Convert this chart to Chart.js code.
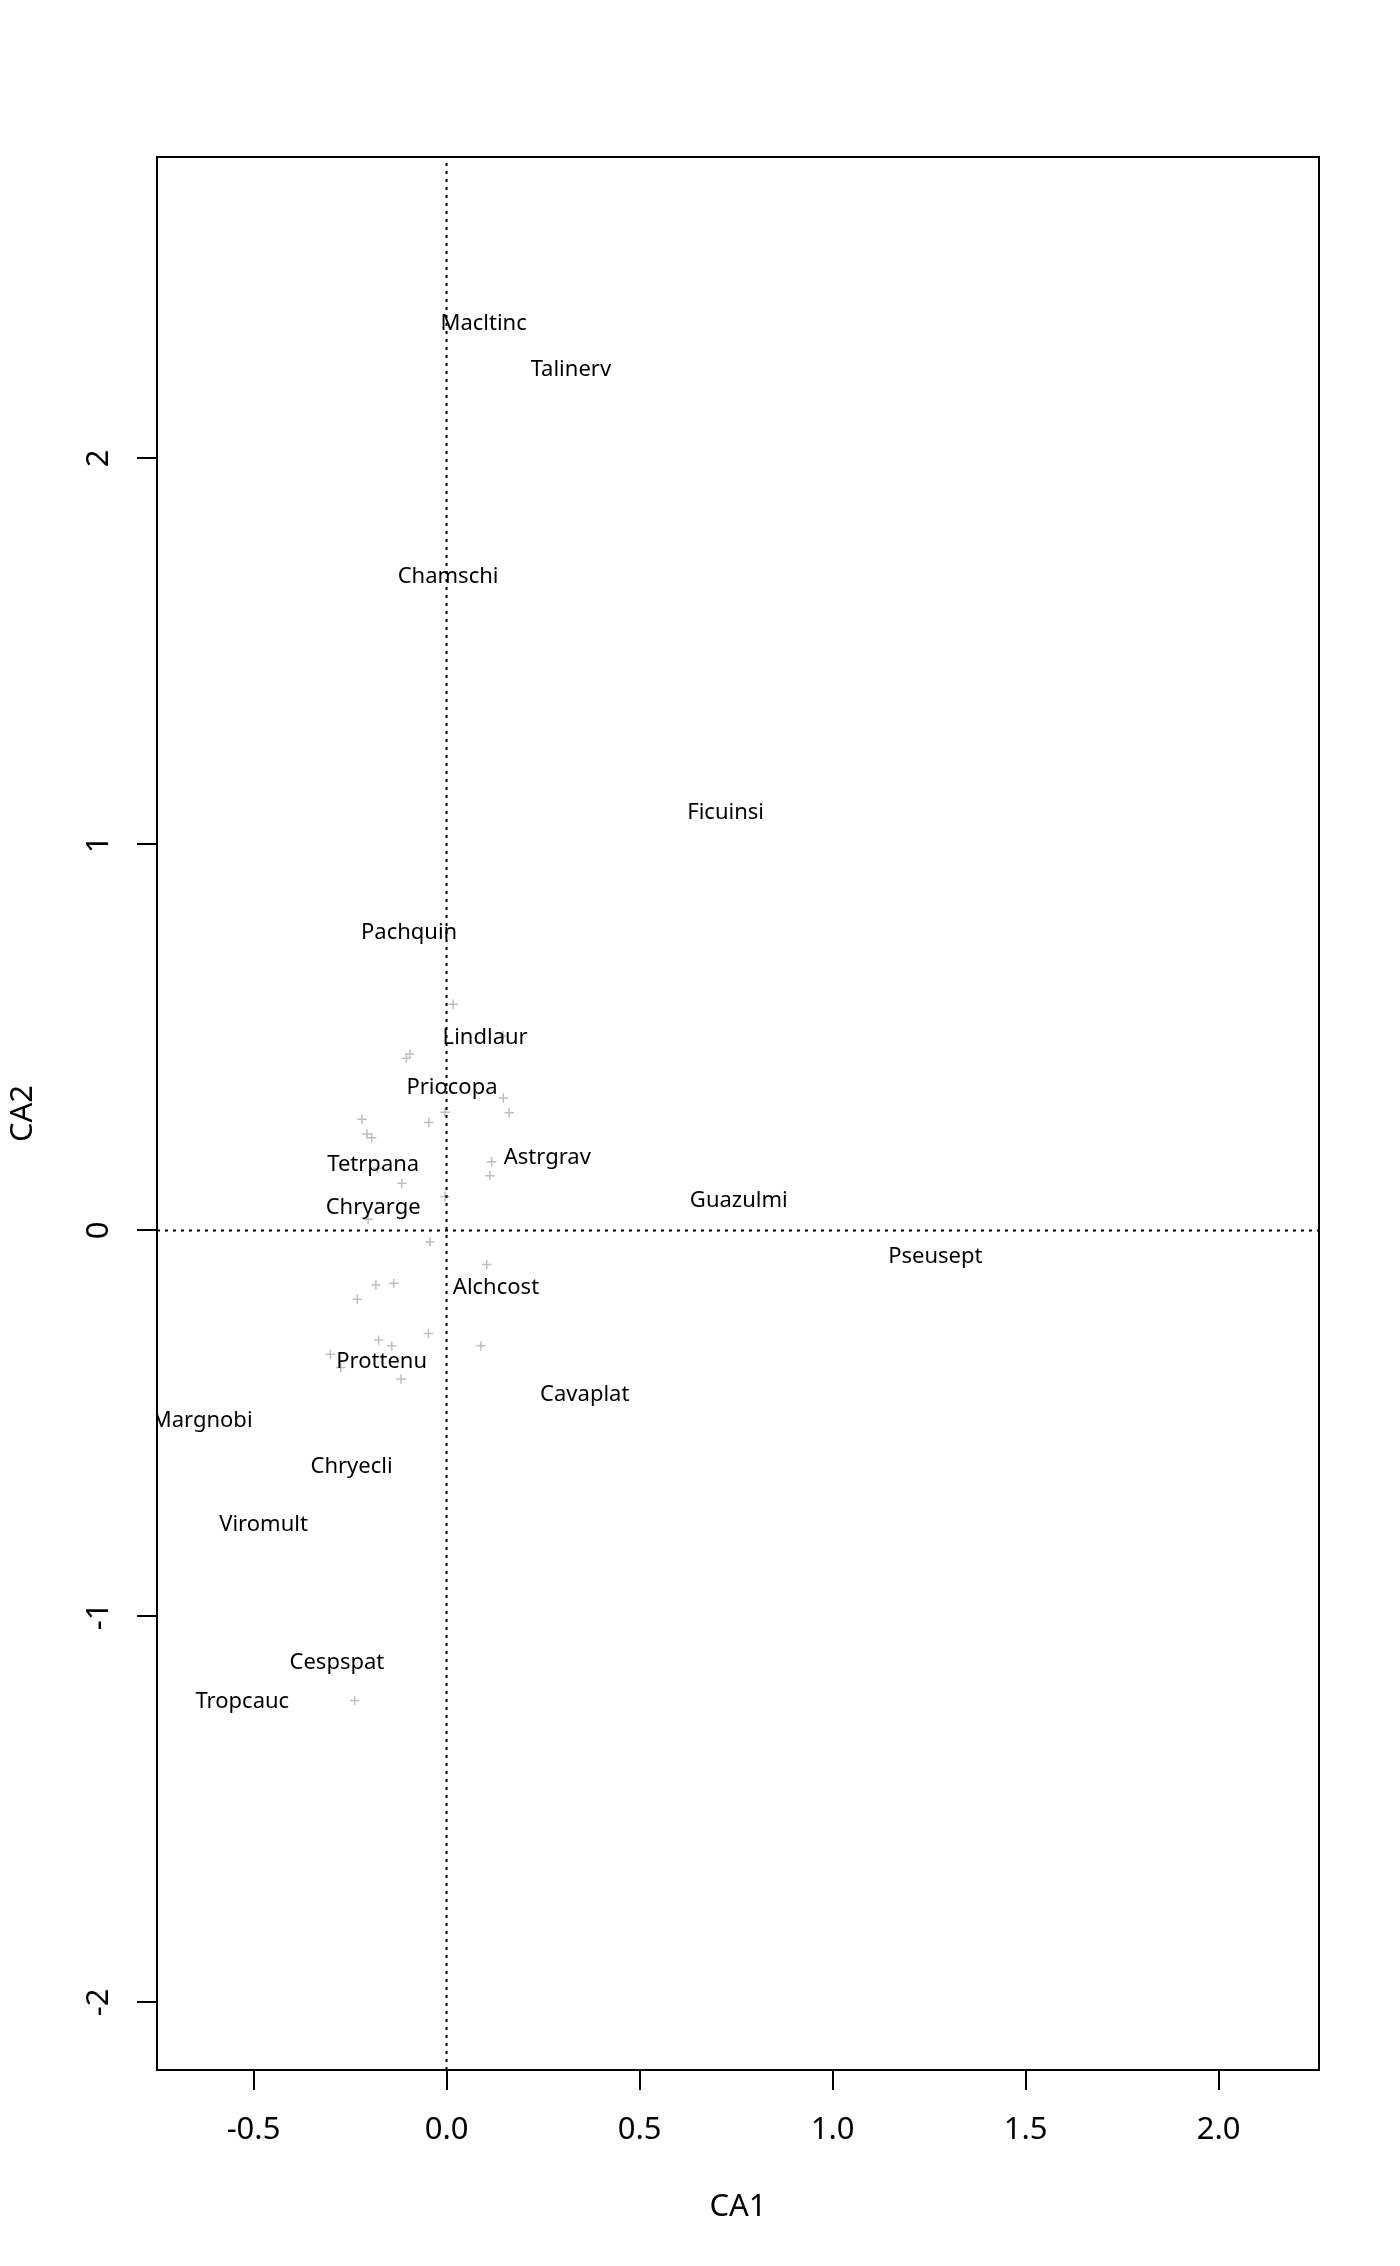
<!DOCTYPE html>
<html>
<head>
<meta charset="utf-8">
<script src="https://cdn.jsdelivr.net/npm/chart.js@4/dist/chart.umd.min.js"></script>
<style>
  html, body { margin: 0; padding: 0; background: #fff; overflow: hidden; }
  canvas { display: block; }
</style>
</head>
<body>
<canvas id="ca" width="1400" height="2266"></canvas>
<script>
// axis limits of the ordination plot
const xLim = [-0.750, 2.260];
const yLim = [-2.175, 2.781];

const xTickValues = [-0.5, 0, 0.5, 1, 1.5, 2];
const xTickLabels = ['-0.5', '0.0', '0.5', '1.0', '1.5', '2.0'];
const yTickValues = [-2, -1, 0, 1, 2];
const yTickLabels = ['-2', '-1', '0', '1', '2'];

// site scores (grey crosses)
const siteX = [0.017, 0.147, -0.095, -0.104, -0.219, -0.206, -0.194, -0.046, -0.004, 0.147,
               0.162, 0.117, 0.112, -0.179, -0.116, -0.004, -0.203, -0.043, 0.104, -0.183,
               -0.137, -0.231, -0.047, -0.176, -0.142, 0.089, -0.301, -0.274, -0.118, -0.238];
const siteY = [0.586, 0.504, 0.457, 0.446, 0.288, 0.250, 0.240, 0.280, 0.306, 0.343,
               0.305, 0.178, 0.142, 0.161, 0.122, 0.088, 0.029, -0.030, -0.088, -0.141,
               -0.137, -0.178, -0.267, -0.284, -0.299, -0.299, -0.321, -0.355, -0.385, -1.218];

// species scores (text labels)
const speciesNames = ['Macltinc', 'Talinerv', 'Chamschi', 'Ficuinsi', 'Pachquin', 'Lindlaur',
                      'Priocopa', 'Astrgrav', 'Tetrpana', 'Guazulmi', 'Chryarge', 'Pseusept',
                      'Alchcost', 'Prottenu', 'Cavaplat', 'Margnobi', 'Chryecli', 'Viromult',
                      'Cespspat', 'Tropcauc'];
const speciesX = [0.096, 0.322, 0.004, 0.723, -0.097, 0.100, 0.014, 0.261, -0.190, 0.757,
                  -0.190, 1.266, 0.128, -0.168, 0.358, -0.633, -0.246, -0.474, -0.284, -0.529];
const speciesY = [2.352, 2.234, 1.697, 1.086, 0.775, 0.504, 0.373, 0.191, 0.174, 0.082,
                  0.062, -0.064, -0.144, -0.337, -0.422, -0.489, -0.608, -0.759, -1.115, -1.217];

const FONT = '"Noto Sans", "Open Sans", sans-serif';

const sitePoints = siteX.map((x, i) => ({ x: x, y: siteY[i] }));
const speciesPoints = speciesX.map((x, i) => ({ x: x, y: speciesY[i] }));

// draws the frame, rotated y tick labels and the species names
const ordiPlugin = {
  id: 'ordi',
  afterDatasetsDraw(chart) {
    const ctx = chart.ctx;
    const area = chart.chartArea;
    const meta = chart.getDatasetMeta(3);
    ctx.save();
    ctx.beginPath();
    ctx.rect(area.left, area.top, area.right - area.left, area.bottom - area.top);
    ctx.clip();
    ctx.fillStyle = '#000';
    ctx.font = '22px ' + FONT;
    ctx.textAlign = 'center';
    ctx.textBaseline = 'middle';
    meta.data.forEach((pt, i) => {
      // nudge down a little so the glyphs sit centred like R's text()
      ctx.fillText(speciesNames[i], pt.x, pt.y + 1.5);
    });
    ctx.restore();
  },
  afterDraw(chart) {
    const ctx = chart.ctx;
    const area = chart.chartArea;
    ctx.save();
    ctx.strokeStyle = '#000';
    ctx.lineWidth = 2;
    ctx.strokeRect(area.left, area.top, area.right - area.left, area.bottom - area.top);

    const ys = chart.scales.y;
    ctx.fillStyle = '#000';
    ctx.font = '31px ' + FONT;
    ctx.textAlign = 'center';
    ctx.textBaseline = 'middle';
    yTickValues.forEach((v, i) => {
      const py = ys.getPixelForValue(v);
      ctx.save();
      ctx.translate(99, py);
      ctx.rotate(-Math.PI / 2);
      ctx.fillText(yTickLabels[i], 0, 0);
      ctx.restore();
    });
    ctx.restore();
  }
};

new Chart(document.getElementById('ca'), {
  type: 'scatter',
  data: {
    datasets: [
      {
        type: 'line',
        data: [{ x: xLim[0], y: 0 }, { x: xLim[1], y: 0 }],
        borderColor: '#000',
        borderWidth: 2,
        borderDash: [3, 5],
        pointRadius: 0,
        fill: false
      },
      {
        type: 'line',
        data: [{ x: 0, y: yLim[0] }, { x: 0, y: yLim[1] }],
        borderColor: '#000',
        borderWidth: 2,
        borderDash: [3, 5],
        pointRadius: 0,
        fill: false
      },
      {
        data: sitePoints,
        pointStyle: 'cross',
        pointRadius: 4.7,
        borderColor: '#bebebe',
        backgroundColor: '#bebebe',
        borderWidth: 1.5
      },
      {
        data: speciesPoints,
        pointRadius: 0,
        borderWidth: 0
      }
    ]
  },
  options: {
    responsive: false,
    animation: false,
    devicePixelRatio: 1,
    layout: { padding: { left: 0, top: 157, right: 81, bottom: 0 } },
    plugins: {
      legend: { display: false },
      tooltip: { enabled: false }
    },
    scales: {
      x: {
        type: 'linear',
        position: 'bottom',
        min: xLim[0],
        max: xLim[1],
        afterBuildTicks: s => { s.ticks = xTickValues.map(v => ({ value: v })); },
        afterFit: s => { s.height = 196; },
        border: { display: false },
        grid: {
          drawOnChartArea: false,
          drawTicks: true,
          tickLength: 20,
          color: '#000',
          lineWidth: 2
        },
        ticks: {
          color: '#000',
          font: { family: FONT, size: 31 },
          padding: 22,
          maxRotation: 0,
          callback: (v, i) => xTickLabels[i]
        },
        title: {
          display: true,
          text: 'CA1',
          color: '#000',
          font: { family: FONT, size: 31 },
          padding: { top: 0, bottom: 40 }
        }
      },
      y: {
        type: 'linear',
        position: 'left',
        min: yLim[0],
        max: yLim[1],
        afterBuildTicks: s => { s.ticks = yTickValues.map(v => ({ value: v })); },
        afterFit: s => { s.width = 157; },
        border: { display: false },
        grid: {
          drawOnChartArea: false,
          drawTicks: true,
          tickLength: 20,
          color: '#000',
          lineWidth: 2
        },
        ticks: { display: false },
        title: {
          display: true,
          text: 'CA2',
          color: '#000',
          font: { family: FONT, size: 31 },
          padding: { top: 5, bottom: 0 }
        }
      }
    }
  },
  plugins: [ordiPlugin]
});
</script>
</body>
</html>
